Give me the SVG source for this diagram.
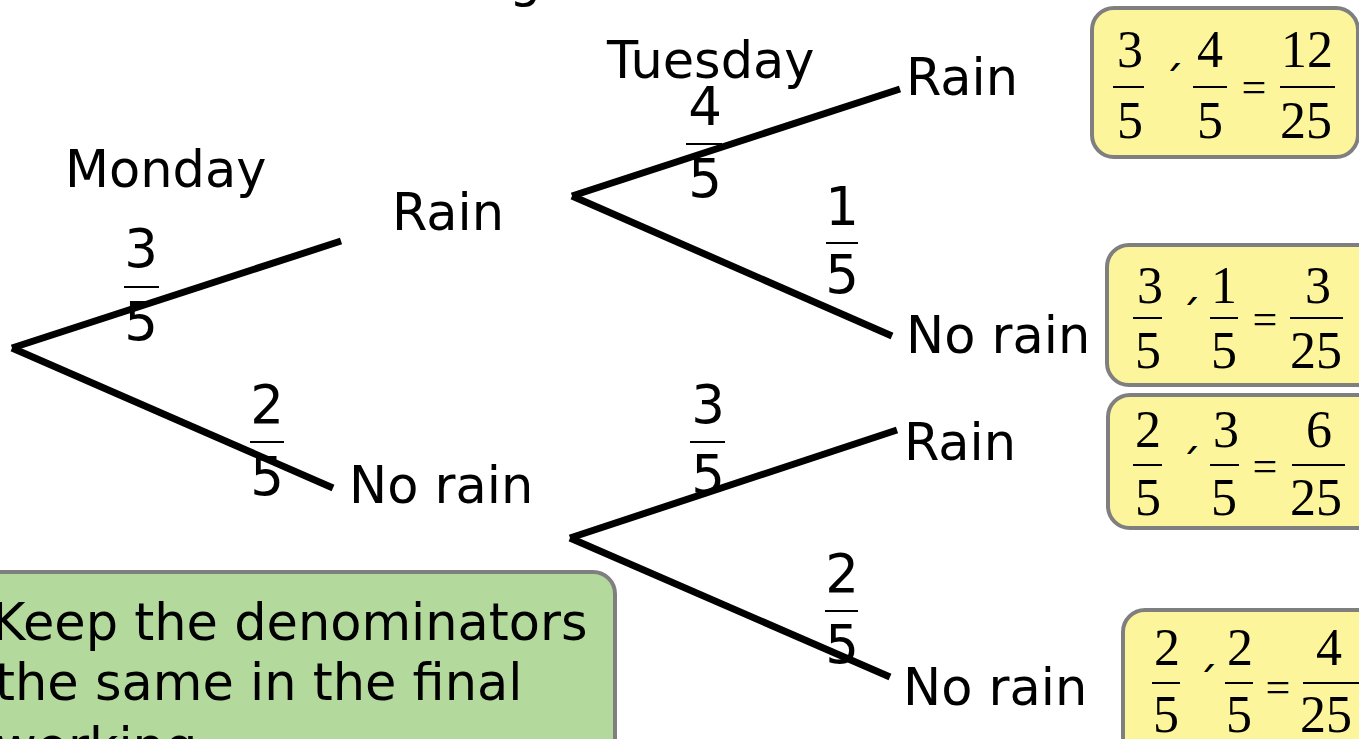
<svg xmlns="http://www.w3.org/2000/svg" width="1359" height="739" viewBox="0 0 1359 739">
<style>
.lbl{font-family:"DejaVu Sans","Verdana",sans-serif;font-size:51px;fill:#000}
.frac{font-family:"DejaVu Sans","Verdana",sans-serif;font-size:53px;fill:#000;text-anchor:middle}
.tim{font-family:"Liberation Serif","Times New Roman",serif;font-size:52px;fill:#000;text-anchor:middle}
.eq{font-family:"Liberation Serif","Times New Roman",serif;font-size:44px;fill:#000;text-anchor:middle}
.tick{font-family:"DejaVu Sans",sans-serif;font-size:44px;fill:#000;text-anchor:middle}
.bar{stroke:#000;stroke-width:2}
.branch{stroke:#000;stroke-width:7;stroke-linecap:butt;fill:none}
.ybox{fill:#FDF59B;stroke:#7F7F7F;stroke-width:4}
.gbox{fill:#B4D99C;stroke:#7F7F7F;stroke-width:4}
</style>
<rect width="1359" height="739" fill="#fff"/>
<text class="lbl" x="509" y="-4">g</text>
<g id="connectors">
<line class="branch" x1="12" y1="348" x2="341" y2="241"/>
<line class="branch" x1="12" y1="348" x2="333" y2="488"/>
<line class="branch" x1="572" y1="196" x2="900" y2="89"/>
<line class="branch" x1="572" y1="196" x2="892" y2="336"/>
<line class="branch" x1="570" y1="538" x2="897" y2="430"/>
<line class="branch" x1="570" y1="538" x2="890" y2="677"/>
</g>
<g id="headings">
<text class="lbl" x="65" y="187">Monday</text>
<text class="lbl" x="607" y="78">Tuesday</text>
</g>
<g id="node-mon-rain"><text class="lbl" x="392" y="230">Rain</text></g>
<g id="node-mon-norain"><text class="lbl" x="349" y="503">No rain</text></g>
<g id="node-rr"><text class="lbl" x="906" y="95">Rain</text></g>
<g id="node-rn"><text class="lbl" x="906" y="353">No rain</text></g>
<g id="node-nr"><text class="lbl" x="904" y="460">Rain</text></g>
<g id="node-nn"><text class="lbl" x="903" y="705">No rain</text></g>
<g id="probs">
<text class="frac" x="141" y="267">3</text><line class="bar" x1="124" y1="287" x2="159" y2="287"/><text class="frac" x="141" y="340">5</text>
<text class="frac" x="267" y="423">2</text><line class="bar" x1="250" y1="442" x2="284" y2="442"/><text class="frac" x="267" y="495">5</text>
<text class="frac" x="705" y="125">4</text><line class="bar" x1="686" y1="144" x2="722" y2="144"/><text class="frac" x="705" y="197">5</text>
<text class="frac" x="842" y="225">1</text><line class="bar" x1="826" y1="243" x2="858" y2="243"/><text class="frac" x="842" y="293">5</text>
<text class="frac" x="708" y="423">3</text><line class="bar" x1="690" y1="442" x2="725" y2="442"/><text class="frac" x="708" y="493">5</text>
<text class="frac" x="842" y="592">2</text><line class="bar" x1="825" y1="611" x2="858" y2="611"/><text class="frac" x="842" y="663">5</text>
</g>
<g id="result-1">
<rect class="ybox" x="1092" y="8" width="266" height="149" rx="22"/>
<text class="tim" x="1130" y="67">3</text><line class="bar" x1="1113" y1="87" x2="1144" y2="87"/><text class="tim" x="1130" y="138">5</text>
<text class="tick" x="1173" y="60">ˏ</text>
<text class="tim" x="1210" y="67">4</text><line class="bar" x1="1193" y1="87" x2="1227" y2="87"/><text class="tim" x="1210" y="138">5</text>
<text class="eq" x="1254" y="102">=</text>
<text class="tim" x="1307" y="67">12</text><line class="bar" x1="1280" y1="87" x2="1335" y2="87"/><text class="tim" x="1306" y="138">25</text>
</g>
<g id="result-2">
<rect class="ybox" x="1107" y="245" width="275" height="140" rx="22"/>
<text class="tim" x="1150" y="303">3</text><line class="bar" x1="1133" y1="318" x2="1162" y2="318"/><text class="tim" x="1148" y="368">5</text>
<text class="tick" x="1190" y="294">ˏ</text>
<text class="tim" x="1224" y="303">1</text><line class="bar" x1="1210" y1="318" x2="1238" y2="318"/><text class="tim" x="1224" y="368">5</text>
<text class="eq" x="1265" y="334">=</text>
<text class="tim" x="1318" y="303">3</text><line class="bar" x1="1290" y1="318" x2="1343" y2="318"/><text class="tim" x="1316" y="368">25</text>
</g>
<g id="result-3">
<rect class="ybox" x="1108" y="395" width="275" height="133" rx="22"/>
<text class="tim" x="1148" y="447">2</text><line class="bar" x1="1133" y1="465" x2="1162" y2="465"/><text class="tim" x="1148" y="515">5</text>
<text class="tick" x="1190" y="443">ˏ</text>
<text class="tim" x="1226" y="447">3</text><line class="bar" x1="1210" y1="465" x2="1239" y2="465"/><text class="tim" x="1224" y="515">5</text>
<text class="eq" x="1265" y="481">=</text>
<text class="tim" x="1319" y="447">6</text><line class="bar" x1="1292" y1="465" x2="1345" y2="465"/><text class="tim" x="1316" y="515">25</text>
</g>
<g id="result-4">
<rect class="ybox" x="1123" y="610" width="265" height="160" rx="22"/>
<text class="tim" x="1167" y="665">2</text><line class="bar" x1="1152" y1="683" x2="1180" y2="683"/><text class="tim" x="1166" y="732">5</text>
<text class="tick" x="1207" y="661">ˏ</text>
<text class="tim" x="1240" y="665">2</text><line class="bar" x1="1225" y1="683" x2="1253" y2="683"/><text class="tim" x="1239" y="732">5</text>
<text class="eq" x="1278" y="702">=</text>
<text class="tim" x="1329" y="665">4</text><line class="bar" x1="1303" y1="683" x2="1360" y2="683"/><text class="tim" x="1326" y="732">25</text>
</g>
<g id="note">
<rect class="gbox" x="-30" y="572" width="645" height="220" rx="22"/>
<text class="lbl" x="-8" y="640">Keep the denominators</text>
<text class="lbl" x="-5" y="700">the same in the final</text>
<text class="lbl" x="-5" y="764">working</text>
</g>
</svg>
